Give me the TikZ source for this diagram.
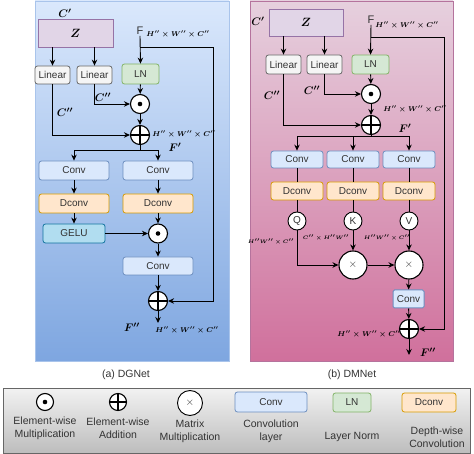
\documentclass[tikz,border=0pt]{standalone}
\usepackage{fontspec}
\setmainfont{Liberation Sans}
\usepackage{amsmath}
\usepackage{xcolor}
\usetikzlibrary{arrows.meta}

\definecolor{colorBlueTop}{HTML}{DAE8FC}
\definecolor{colorBlueBot}{HTML}{7EA6E0}
\definecolor{colorBlueLine}{HTML}{A9C4EB}
\definecolor{colorPinkTop}{HTML}{E6D0DE}
\definecolor{colorPinkBot}{HTML}{D0709C}
\definecolor{colorPinkLine}{HTML}{B5739D}
\definecolor{colorLegTop}{HTML}{F2F2F2}
\definecolor{colorLegBot}{HTML}{BDBDBD}
\definecolor{colorLegLine}{HTML}{666666}
\definecolor{colorConvFill}{HTML}{DAE8FC}
\definecolor{colorConvLine}{HTML}{6C8EBF}
\definecolor{colorDconvFill}{HTML}{FFE6CC}
\definecolor{colorDconvLine}{HTML}{D79B00}
\definecolor{colorLNFill}{HTML}{D5E8D4}
\definecolor{colorLNLine}{HTML}{82B366}
\definecolor{colorLinFill}{HTML}{F5F5F5}
\definecolor{colorLinLine}{HTML}{666666}
\definecolor{colorZFill}{HTML}{E1D5E7}
\definecolor{colorZLine}{HTML}{9673A6}
\definecolor{colorGeluFill}{HTML}{B1DDF0}
\definecolor{colorGeluLine}{HTML}{10739E}
\definecolor{colorText}{HTML}{333333}

\tikzset{
  boxBase/.style={draw, rounded corners=2.5pt, line width=0.8pt, inner sep=0pt,
    font=\fontsize{10}{12}\selectfont, text=colorText},
  boxConv/.style={boxBase, fill=colorConvFill, draw=colorConvLine},
  boxDconv/.style={boxBase, fill=colorDconvFill, draw=colorDconvLine},
  boxLN/.style={boxBase, fill=colorLNFill, draw=colorLNLine},
  boxLinear/.style={boxBase, fill=colorLinFill, draw=colorLinLine},
  boxGelu/.style={boxBase, fill=colorGeluFill, draw=colorGeluLine},
  boxZ/.style={draw=colorZLine, fill=colorZFill, line width=0.8pt, inner sep=0pt,
    font=\fontsize{12}{14}\selectfont},
  lineArrow/.style={line width=0.9pt, -{Stealth[length=6pt,width=5.5pt]}},
  linePlain/.style={line width=0.9pt},
  opBase/.style={circle, draw, fill=white, line width=1.1pt, inner sep=0pt, minimum size=19pt},
  opDot/.style={opBase, path picture={\fill[black] (path picture bounding box.center) circle (2.3pt);}},
  opPlus/.style={opBase, path picture={\draw[black, line width=1.1pt]
    (path picture bounding box.north) -- (path picture bounding box.south)
    (path picture bounding box.west) -- (path picture bounding box.east);}},
  opTimes/.style={opBase, minimum size=28pt, font=\fontsize{11}{13}\selectfont, text=colorText},
  opLetter/.style={opBase, line width=0.9pt, minimum size=18pt, font=\fontsize{10}{12}\selectfont, text=colorText},
  mathLabel/.style={font=\fontsize{11}{13}\selectfont, inner sep=1pt},
  dimLabel/.style={font=\fontsize{7}{8}\selectfont, inner sep=1pt},
  tinyLabel/.style={font=\fontsize{5}{6}\selectfont, inner sep=0.5pt},
  textLabel/.style={font=\fontsize{10.5}{13}\selectfont, align=center, text=colorText},
}

\begin{document}
\begin{tikzpicture}[x=1pt, y=-1pt]
    \useasboundingbox (0,0) rectangle (474,454);

    % Panneau (a) : DGNet
    \shade[top color=colorBlueTop, bottom color=colorBlueBot, draw=colorBlueLine, line width=0.8pt]
        (35,1) rectangle (229,361);

    \node[mathLabel] (cPrimeA) at (65,13) {$\boldsymbol{C'}$};
    \node[boxZ, minimum width=75pt, minimum height=28pt] (zA) at (75.5,33) {$\boldsymbol{Z}$};
    \node[font=\fontsize{11}{13}\selectfont, inner sep=1pt, text=colorText] (fInA) at (140,31) {F};
    \node[dimLabel] (dimInA) at (178,34) {$\boldsymbol{H''\times W''\times C''}$};

    \node[boxLinear, minimum width=35pt, minimum height=18pt] (linA1) at (52.5,75) {Linear};
    \node[boxLinear, minimum width=35pt, minimum height=18pt] (linA2) at (94.5,75) {Linear};
    \node[boxLN, minimum width=37pt, minimum height=20pt] (lnA) at (140.5,74) {LN};

    \node[opDot] (mulA) at (140,104) {};
    \node[opPlus] (addA) at (140,135) {};
    \node[mathLabel] (cSecA2) at (103,97) {$\boldsymbol{C''}$};
    \node[mathLabel] (cSecA1) at (65,112) {$\boldsymbol{C''}$};
    \node[dimLabel] (dimMidA) at (184,134) {$\boldsymbol{H''\times W''\times C''}$};
    \node[mathLabel] (fPrimeA) at (175,147) {$\boldsymbol{F'}$};
    \coordinate (splitA) at (140,150);

    \node[boxConv, minimum width=70pt, minimum height=19pt] (convA1) at (74,170.5) {Conv};
    \node[boxConv, minimum width=70pt, minimum height=19pt] (convA2) at (158,170.5) {Conv};
    \node[boxDconv, minimum width=70pt, minimum height=19pt] (dconvA1) at (74,203.5) {Dconv};
    \node[boxDconv, minimum width=70pt, minimum height=19pt] (dconvA2) at (158,203.5) {Dconv};
    \node[boxGelu, minimum width=62pt, minimum height=19pt] (geluA) at (74,233.5) {GELU};
    \node[opDot] (mul2A) at (158,233.5) {};
    \node[boxConv, minimum width=70pt, minimum height=18pt] (convA3) at (158,266) {Conv};
    \node[opPlus] (add2A) at (158,301) {};
    \coordinate (outA) at (158,323);
    \node[mathLabel] (fSecA) at (132,327) {$\boldsymbol{F''}$};
    \node[dimLabel] (dimOutA) at (187,330) {$\boldsymbol{H''\times W''\times C''}$};

    \coordinate (skipA) at (140,47);
    \coordinate (skipCornerA) at (213,47);

    \draw[lineArrow] (zA.south -| linA1.north) -- (linA1.north);
    \draw[lineArrow] (zA.south -| linA2.north) -- (linA2.north);
    \draw[lineArrow] (fInA.south) -- (lnA.north);
    \draw[lineArrow] (skipA) -- (skipCornerA) |- (add2A.east);
    \draw[lineArrow] (lnA) -- (mulA);
    \draw[lineArrow] (linA2.south) |- (mulA.west);
    \draw[lineArrow] (mulA) -- (addA);
    \draw[lineArrow] (linA1.south) |- (addA.west);
    \draw[linePlain] (addA.south) -- (splitA);
    \draw[lineArrow] (splitA) -| (convA1.north);
    \draw[lineArrow] (splitA) -| (convA2.north);
    \draw[lineArrow] (convA1) -- (dconvA1);
    \draw[lineArrow] (convA2) -- (dconvA2);
    \draw[lineArrow] (dconvA1) -- (geluA);
    \draw[lineArrow] (dconvA2) -- (mul2A);
    \draw[lineArrow] (geluA) -- (mul2A);
    \draw[lineArrow] (mul2A) -- (convA3);
    \draw[lineArrow] (convA3) -- (add2A);
    \draw[lineArrow] (add2A) -- (outA);

    % Panneau (b) : DMNet
    \shade[top color=colorPinkTop, bottom color=colorPinkBot, draw=colorPinkLine, line width=0.8pt]
        (250,1) rectangle (453,361);

    \node[mathLabel] (cPrimeB) at (258,21) {$\boldsymbol{C'}$};
    \node[boxZ, minimum width=74pt, minimum height=27pt] (zB) at (306,22.5) {$\boldsymbol{Z}$};
    \node[font=\fontsize{11}{13}\selectfont, inner sep=1pt, text=colorText] (fInB) at (371,20) {F};
    \node[dimLabel] (dimInB) at (407,25) {$\boldsymbol{H''\times W''\times C''}$};

    \node[boxLinear, minimum width=35pt, minimum height=19pt] (linB1) at (283.5,64.5) {Linear};
    \node[boxLinear, minimum width=35pt, minimum height=19pt] (linB2) at (324.5,64.5) {Linear};
    \node[boxLN, minimum width=37pt, minimum height=19pt] (lnB) at (370.5,64.5) {LN};

    \node[opDot] (mulB) at (371,94) {};
    \node[opPlus] (addB) at (371,125) {};
    \node[mathLabel] (cSecB2) at (312,90) {$\boldsymbol{C''}$};
    \node[mathLabel] (cSecB1) at (272,95) {$\boldsymbol{C''}$};
    \node[dimLabel] (dimMidB) at (415,109) {$\boldsymbol{H''\times W''\times C''}$};
    \node[mathLabel] (fPrimeB) at (405,128) {$\boldsymbol{F'}$};
    \coordinate (splitB) at (371,136);

    \node[boxConv, minimum width=52pt, minimum height=17pt] (convB1) at (297,159.5) {Conv};
    \node[boxConv, minimum width=52pt, minimum height=17pt] (convB2) at (353,159.5) {Conv};
    \node[boxConv, minimum width=52pt, minimum height=17pt] (convB3) at (409,159.5) {Conv};
    \node[boxDconv, minimum width=52pt, minimum height=18pt] (dconvB1) at (297,191) {Dconv};
    \node[boxDconv, minimum width=52pt, minimum height=18pt] (dconvB2) at (353,191) {Dconv};
    \node[boxDconv, minimum width=52pt, minimum height=18pt] (dconvB3) at (409,191) {Dconv};

    \node[opLetter] (qB) at (297,221) {Q};
    \node[opLetter] (kB) at (353,221) {K};
    \node[opLetter] (vB) at (409,221) {V};
    \node[tinyLabel] (dimQB) at (271,242) {$\boldsymbol{H''W''\times C''}$};
    \node[tinyLabel] (dimKB) at (326,238) {$\boldsymbol{C''\times H''W''}$};
    \node[tinyLabel] (dimVB) at (387,238) {$\boldsymbol{H''W''\times C''}$};

    \node[opTimes] (mmB1) at (353,265) {$\times$};
    \node[opTimes] (mmB2) at (409,265) {$\times$};
    \node[boxConv, line width=1pt, rounded corners=1.5pt, minimum width=31pt, minimum height=18pt] (convB4) at (408.5,299) {Conv};
    \node[opPlus] (addB2) at (409,329) {};
    \node[dimLabel] (dimOutB) at (369,334) {$\boldsymbol{H''\times W''\times C''}$};
    \coordinate (outB) at (409,355);
    \node[mathLabel] (fSecB) at (428,352) {$\boldsymbol{F''}$};

    \coordinate (skipB) at (371,37);
    \coordinate (skipCornerB) at (444,37);

    \draw[lineArrow] (zB.south -| linB1.north) -- (linB1.north);
    \draw[lineArrow] (zB.south -| linB2.north) -- (linB2.north);
    \draw[lineArrow] (fInB.south) -- (lnB.north);
    \draw[lineArrow] (skipB) -- (skipCornerB) |- (addB2.east);
    \draw[lineArrow] (lnB) -- (mulB);
    \draw[lineArrow] (linB2.south) |- (mulB.west);
    \draw[lineArrow] (mulB) -- (addB);
    \draw[lineArrow] (linB1.south) |- (addB.west);
    \draw[linePlain] (addB.south) -- (splitB);
    \draw[lineArrow] (splitB) -| (convB1.north);
    \draw[lineArrow] (splitB) -| (convB2.north);
    \draw[lineArrow] (splitB) -| (convB3.north);
    \foreach \col in {1,2,3} {
        \draw[linePlain] (convB\col) -- (dconvB\col);
    }
    \draw[linePlain] (dconvB1) -- (qB);
    \draw[linePlain] (dconvB2) -- (kB);
    \draw[linePlain] (dconvB3) -- (vB);
    \draw[lineArrow] (qB.south) |- (mmB1.west);
    \draw[lineArrow] (kB) -- (mmB1);
    \draw[lineArrow] (vB) -- (mmB2);
    \draw[lineArrow] (mmB1) -- (mmB2);
    \draw[lineArrow] (mmB2) -- (convB4);
    \draw[lineArrow] (convB4) -- (addB2);
    \draw[lineArrow] (addB2) -- (outB);

    % Legendes des panneaux
    \node[textLabel] (capA) at (126,375) {(a) DGNet};
    \node[textLabel] (capB) at (352,375) {(b) DMNet};

    % Legende du bas
    \shade[top color=colorLegTop, bottom color=colorLegBot, draw=colorLegLine, line width=0.8pt]
        (3,388) rectangle (470,453);

    \node[opDot, minimum size=17pt] (legMul) at (45,402) {};
    \node[textLabel] (legMulTxt) at (45,428.5) {Element-wise\\Multiplication};
    \node[opPlus, minimum size=17pt] (legAdd) at (118,402) {};
    \node[textLabel] (legAddTxt) at (118,428.5) {Element-wise\\Addition};
    \node[opTimes, line width=0.9pt, minimum size=25pt] (legMat) at (190,403) {$\times$};
    \node[textLabel] (legMatTxt) at (190,431) {Matrix\\Multiplication};
    \node[boxConv, minimum width=72pt, minimum height=20pt] (legConv) at (271,402) {Conv};
    \node[textLabel] (legConvTxt) at (271,431) {Convolution\\layer};
    \node[boxLN, minimum width=38pt, minimum height=19pt] (legLN) at (352,402.5) {LN};
    \node[textLabel] (legLNTxt) at (352,437) {Layer Norm};
    \node[boxDconv, minimum width=54pt, minimum height=19pt] (legDconv) at (429,402.5) {Dconv};
    \node[textLabel] (legDconvTxt) at (437,437) {Depth-wise\\Convolution};

    %\drawgrid
\end{tikzpicture}
\end{document}
